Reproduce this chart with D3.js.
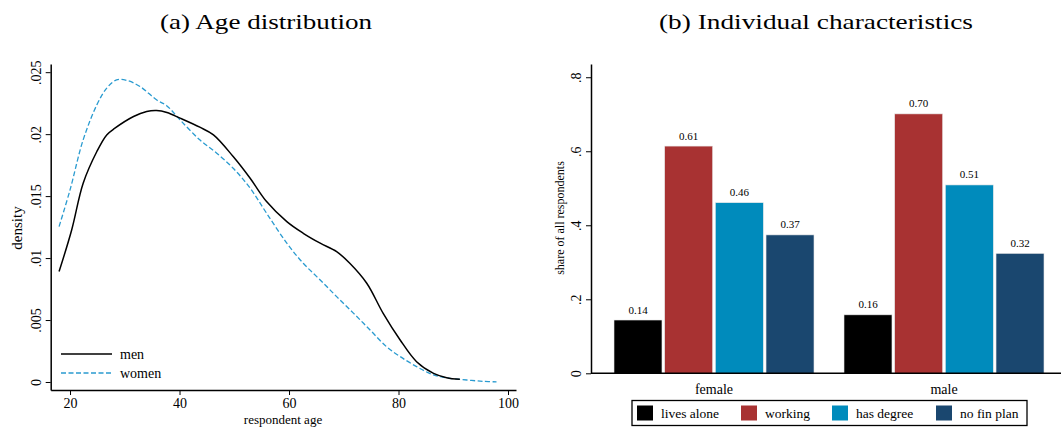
<!DOCTYPE html>
<html>
<head>
<meta charset="utf-8">
<script src="https://cdn.jsdelivr.net/npm/d3@7"></script>
<style>
  html, body { margin: 0; padding: 0; background: #fff; }
  svg { display: block; }
  svg text { font-family: "Liberation Serif", "Times New Roman", serif !important; fill: #000; }
</style>
</head>
<body>
<svg id="chart" width="1061" height="430"></svg>
<script>
// ---------- Data: panel (a) ----------
const menAge = [18, 20.3, 22.4, 24.9, 26.7, 28.2, 31.6, 34.0, 35.8, 37.7, 40.1, 43.7, 46.2, 49.8, 52.9, 55.9, 59.6, 62.6, 65.7, 68.7, 71.1, 74.2, 77.2, 80.3, 83.3, 86.4, 88.8, 91.2];
const menDensity = [0.00891, 0.01227, 0.01604, 0.0186, 0.01994, 0.02048, 0.02142, 0.02182, 0.0219, 0.02174, 0.02129, 0.02056, 0.01994, 0.01819, 0.01644, 0.01456, 0.01294, 0.0120, 0.0112, 0.01052, 0.00958, 0.00797, 0.00554, 0.00339, 0.00164, 0.0007, 0.00035, 0.00022];
const womenAge = [18, 20, 22.4, 24.9, 26.7, 28.5, 30.4, 32.8, 35.8, 37.7, 40.1, 43.7, 46.8, 49.8, 52.9, 55.9, 59.6, 62.6, 65.7, 68.7, 71.8, 74.8, 77.8, 80.3, 83.3, 86.4, 89.4, 92.5, 95.5, 97.9];
const womenDensity = [0.01254, 0.0155, 0.01954, 0.02236, 0.02371, 0.02438, 0.02433, 0.02384, 0.02277, 0.02228, 0.02115, 0.01954, 0.01846, 0.01725, 0.01564, 0.01362, 0.0112, 0.00958, 0.00823, 0.00689, 0.00554, 0.0042, 0.00285, 0.00205, 0.00124, 0.00057, 0.0003, 0.00016, 0.00005, 0.00001];
const ageTicks = [20, 40, 60, 80, 100];
const densityTicks = [0, 0.005, 0.01, 0.015, 0.02, 0.025];
const densityTickLabels = ["0", ".005", ".01", ".015", ".02", ".025"];
const seriesA = ["men", "women"];

// ---------- Data: panel (b) ----------
const groups = ["female", "male"];
const traits = ["lives alone", "working", "has degree", "no fin plan"];
const femaleShares = [0.144, 0.614, 0.461, 0.374];
const maleShares = [0.158, 0.701, 0.509, 0.324];
const shareTicks = [0, 0.2, 0.4, 0.6, 0.8];
const shareTickLabels = ["0", ".2", ".4", ".6", ".8"];

const traitColors = ["#000000", "#a83232", "#008bbc", "#1a476f"];

const svg = d3.select("#chart");

// Titles
svg.append("text").attr("x", 160).attr("y", 29)
  .attr("textLength", 212).attr("lengthAdjust", "spacingAndGlyphs")
  .style("font-size", "22px").text("(a) Age distribution");
svg.append("text").attr("x", 659).attr("y", 29)
  .attr("textLength", 314).attr("lengthAdjust", "spacingAndGlyphs")
  .style("font-size", "22px").text("(b) Individual characteristics");

// ---------- Panel (a) ----------
const xA = d3.scaleLinear().domain([16.47, 101.46]).range([50.7, 516]);
const yA = d3.scaleLinear().domain([-0.000646, 0.02566]).range([390, 64]);

const gA = svg.append("g");
const xAxisA = gA.append("g").attr("transform", `translate(0,${yA.range()[0]})`)
  .call(d3.axisBottom(xA).tickValues(ageTicks).tickSize(5).tickSizeOuter(0).tickPadding(3));
const yAxisA = gA.append("g").attr("transform", `translate(${xA.range()[0]},0)`)
  .call(d3.axisLeft(yA).tickValues(densityTicks).tickFormat((d, i) => densityTickLabels[i]).tickSize(5).tickSizeOuter(0));

[xAxisA, yAxisA].forEach(ax => {
  ax.select(".domain").attr("stroke", "#000").attr("stroke-width", 1.5);
  ax.selectAll(".tick line").attr("stroke", "#000").attr("stroke-width", 1);
  ax.selectAll(".tick text").style("font-size", "14px");
});
yAxisA.selectAll(".tick text")
  .attr("x", null)
  .attr("transform", "translate(-15,0) rotate(-90)")
  .attr("text-anchor", "middle")
  .attr("dy", "0.35em");

gA.append("text").attr("transform", "translate(22,228) rotate(-90)")
  .attr("text-anchor", "middle").style("font-size", "15px").text("density");
gA.append("text").attr("x", 283).attr("y", 424).attr("text-anchor", "middle")
  .style("font-size", "13px").text("respondent age");

const lineA = d3.line().x(d => xA(d[0])).y(d => yA(d[1])).curve(d3.curveCatmullRom.alpha(0.5));
const menPts = menAge.map((a, i) => [a, menDensity[i]]);
const womenPts = womenAge.map((a, i) => [a, womenDensity[i]]);
gA.append("path").datum(womenPts).attr("d", lineA).attr("fill", "none")
  .attr("stroke", "#2a9bd0").attr("stroke-width", 1.3).attr("stroke-dasharray", "5,2.5");
gA.append("path").datum(menPts).attr("d", lineA).attr("fill", "none")
  .attr("stroke", "#000").attr("stroke-width", 1.5);

// legend (a)
const legA = gA.append("g");
seriesA.forEach((s, i) => {
  const y = 354 + i * 19;
  legA.append("line").attr("x1", 61).attr("x2", 112).attr("y1", y).attr("y2", y)
    .attr("stroke", i === 0 ? "#000" : "#2a9bd0").attr("stroke-width", i === 0 ? 1.5 : 1.3)
    .attr("stroke-dasharray", i === 0 ? null : "5,2.5");
  legA.append("text").attr("x", 120).attr("y", y + 4.5).style("font-size", "14px").text(s);
});

// ---------- Panel (b) ----------
const yB = d3.scaleLinear().domain([0, 0.8358]).range([373.3, 64]);
const xB = d3.scaleBand().domain(groups).range([599, 1059]).paddingInner(0).paddingOuter(0);
const xSub = d3.scaleBand().domain(traits).range([-100, 100]).paddingInner(0.053).paddingOuter(0);

const gB = svg.append("g");
const shares = { female: femaleShares, male: maleShares };
groups.forEach(g => {
  const cx = xB(g) + xB.bandwidth() / 2;
  const grp = gB.append("g").attr("transform", `translate(${cx},0)`);
  traits.forEach((t, i) => {
    const v = shares[g][i];
    grp.append("rect")
      .attr("x", xSub(t)).attr("width", xSub.bandwidth())
      .attr("y", yB(v)).attr("height", yB(0) - yB(v))
      .attr("fill", traitColors[i])
      .attr("stroke", "#e8e8e8").attr("stroke-width", 0.6);
    grp.append("text")
      .attr("x", xSub(t) + xSub.bandwidth() / 2).attr("y", yB(v) - 6.5)
      .attr("text-anchor", "middle").style("font-size", "11px")
      .text(d3.format(".2f")(v));
  });
});

const xAxisB = gB.append("g").attr("transform", `translate(0,${yB(0)})`)
  .call(d3.axisBottom(xB).tickSize(0).tickPadding(11));
xAxisB.select(".domain").attr("d", `M591,0H1061`).attr("stroke", "#000").attr("stroke-width", 1.5);
xAxisB.selectAll(".tick text").style("font-size", "14px");

const yAxisB = gB.append("g").attr("transform", `translate(591,0)`)
  .call(d3.axisLeft(yB).tickValues(shareTicks).tickFormat((d, i) => shareTickLabels[i]).tickSize(5).tickSizeOuter(0));
yAxisB.select(".domain").attr("stroke", "#000").attr("stroke-width", 1.5);
yAxisB.selectAll(".tick line").attr("stroke", "#000");
yAxisB.selectAll(".tick text")
  .style("font-size", "14px")
  .attr("x", null).attr("dy", "0.35em")
  .attr("transform", "translate(-15,0) rotate(-90)")
  .attr("text-anchor", "middle");

gB.append("text").attr("transform", "translate(564,218) rotate(-90)")
  .attr("text-anchor", "middle").style("font-size", "12px").text("share of all respondents");

// legend (b)
const legB = gB.append("g");
legB.append("rect").attr("x", 632).attr("y", 400.5).attr("width", 395).attr("height", 25)
  .attr("fill", "#fff").attr("stroke", "#000").attr("stroke-width", 1.3);
const legX = [637, 741, 832, 936];
traits.forEach((t, i) => {
  legB.append("rect").attr("x", legX[i]).attr("y", 405.5).attr("width", 16).attr("height", 15)
    .attr("fill", traitColors[i]);
  legB.append("text").attr("x", legX[i] + 24).attr("y", 418).style("font-size", "13.5px").text(t);
});
</script>
</body>
</html>
